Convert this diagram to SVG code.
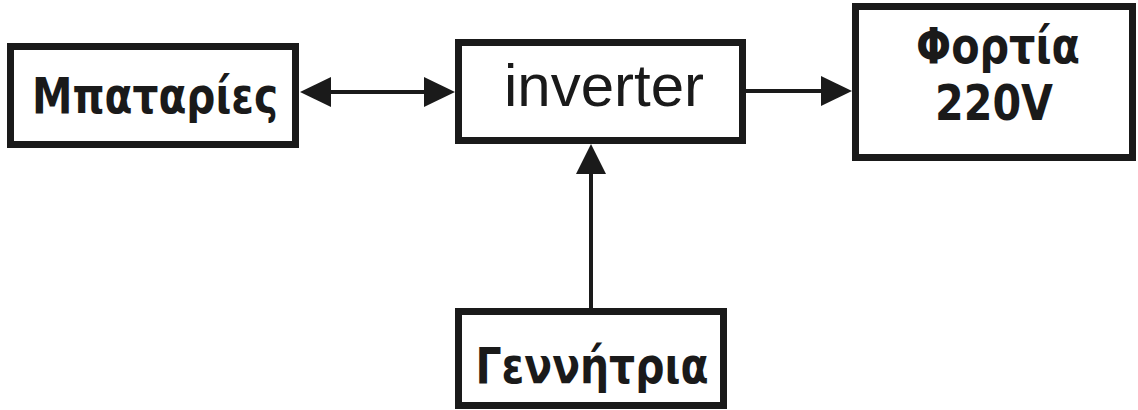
<svg xmlns="http://www.w3.org/2000/svg" width="1138" height="410" viewBox="0 0 1138 410">
  <style>
    .box { fill: #ffffff; stroke: #1a1a1a; stroke-width: 7; }
    .lbl { font-family: "DejaVu Sans Condensed", "DejaVu Sans", "Liberation Sans", sans-serif; font-stretch: condensed; font-weight: bold; font-size: 50px; fill: #1a1a1a; text-anchor: middle; }
    .lbl-reg { font-family: "Liberation Sans", Arial, sans-serif; font-size: 60px; fill: #1a1a1a; text-anchor: middle; }
    .wire { stroke: #1a1a1a; stroke-width: 4; fill: none; }
    .head { fill: #1a1a1a; }
  </style>
  <rect width="1138" height="410" fill="#ffffff"/>

  <g id="connectors">
    <!-- batteries <-> inverter -->
    <line class="wire" x1="325" y1="92" x2="430" y2="92"/>
    <polygon class="head" points="300,92 331,77 331,107"/>
    <polygon class="head" points="455,92 424,77 424,107"/>
    <!-- inverter -> loads -->
    <line class="wire" x1="746" y1="91" x2="828" y2="91"/>
    <polygon class="head" points="852,91 821,76 821,106"/>
    <!-- generator -> inverter -->
    <line class="wire" x1="591" y1="308" x2="591" y2="168"/>
    <polygon class="head" points="591,144 576,174 606,174"/>
  </g>

  <g id="batteries">
    <rect class="box" x="10.5" y="46.5" width="285" height="98"/>
    <text class="lbl" x="155" y="113" textLength="246" lengthAdjust="spacingAndGlyphs">Μπαταρίες</text>
  </g>

  <g id="inverter">
    <rect class="box" x="458.5" y="42.5" width="284" height="98"/>
    <text class="lbl-reg" x="604" y="106">inverter</text>
  </g>

  <g id="loads">
    <rect class="box" x="855.5" y="6.5" width="277" height="151"/>
    <text class="lbl" x="998" y="63" textLength="164" lengthAdjust="spacingAndGlyphs">Φορτία</text>
    <text class="lbl" x="994" y="120" textLength="118" lengthAdjust="spacingAndGlyphs">220V</text>
  </g>

  <g id="generator">
    <rect class="box" x="458.5" y="311.5" width="265" height="94"/>
    <text class="lbl" x="592" y="383" textLength="233" lengthAdjust="spacingAndGlyphs">Γεννήτρια</text>
  </g>
</svg>
